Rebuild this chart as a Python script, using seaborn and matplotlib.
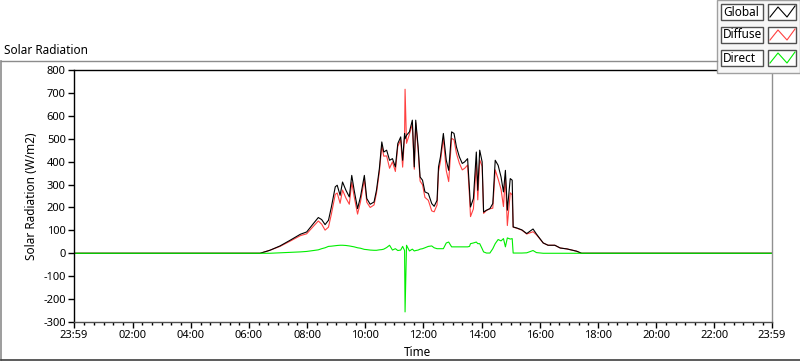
import numpy as np
import pandas as pd
import matplotlib
matplotlib.use("Agg")
import matplotlib.pyplot as plt
from matplotlib.lines import Line2D
from matplotlib.patches import Rectangle
from matplotlib.ticker import FixedLocator
import seaborn as sb

# sample times (HH:MM), "23:59" at the start means the minute before midnight
times = ["23:59", "06:23", "06:43", "07:04", "07:25", "07:46", "07:59", "08:13", "08:23", "08:30",
         "08:37", "08:44", "08:50", "08:58", "09:02", "09:08", "09:13", "09:20", "09:27", "09:32",
         "09:37", "09:44", "09:50", "09:58", "10:03", "10:10", "10:18", "10:23", "10:29", "10:34",
         "10:38", "10:44", "10:50", "10:56", "11:02", "11:07", "11:13", "11:17", "11:21", "11:22",
         "11:25", "11:31", "11:37", "11:41", "11:44", "11:49", "11:53", "11:58", "12:03", "12:10",
         "12:17", "12:22", "12:28", "12:31", "12:35", "12:41", "12:47", "12:52", "12:58", "13:03",
         "13:08", "13:14", "13:20", "13:25", "13:31", "13:35", "13:37", "13:43", "13:49", "13:52",
         "13:56", "14:01", "14:04", "14:10", "14:17", "14:23", "14:28", "14:34", "14:40", "14:45",
         "14:49", "14:53", "14:59", "15:03", "15:05", "15:13", "15:23", "15:33", "15:46", "15:53",
         "16:07", "16:17", "16:21", "16:31", "16:42", "16:56", "17:16", "17:26", "23:59"]

global_rad = [0, 0, 13, 32, 57, 83, 93, 130, 156, 147,
              125, 144, 202, 290, 297, 253, 311, 275, 246, 340,
              275, 195, 246, 340, 239, 214, 224, 275, 370, 486,
              442, 450, 406, 413, 377, 479, 508, 406, 523, 500,
              515, 530, 581, 377, 581, 464, 333, 319, 268, 261,
              217, 205, 231, 377, 421, 523, 406, 362, 530, 523,
              464, 421, 392, 399, 413, 275, 202, 239, 442, 275,
              450, 399, 180, 188, 195, 217, 406, 384, 333, 268,
              362, 188, 326, 319, 115, 110, 102, 86, 106, 84,
              45, 35, 35, 35, 23, 19, 9, 0, 0]

diffuse_rad = [0, 0, 13, 30, 53, 77, 85, 118, 141, 127,
               101, 114, 171, 257, 263, 218, 276, 241, 214, 310,
               247, 171, 224, 323, 223, 200, 211, 262, 355, 470,
               424, 425, 371, 399, 357, 467, 494, 376, 511, 716,
               480, 520, 563, 367, 569, 450, 315, 299, 244, 231,
               185, 181, 211, 357, 401, 503, 361, 313, 502, 495,
               436, 393, 364, 371, 385, 245, 160, 194, 393, 233,
               408, 379, 174, 187, 194, 197, 364, 324, 279, 204,
               334, 121, 264, 255, 114, 109, 101, 84, 94, 81,
               45, 35, 35, 35, 23, 19, 9, 0, 0]

direct_rad = [0, 0, 0, 2, 4, 6, 8, 12, 15, 20,
              24, 30, 31, 33, 34, 35, 35, 34, 32, 30,
              28, 24, 22, 17, 16, 14, 13, 13, 15, 16,
              18, 25, 35, 14, 20, 12, 14, 30, 12, -256,
              35, 10, 18, 10, 12, 14, 18, 20, 24, 30,
              32, 24, 20, 20, 20, 20, 45, 49, 28, 28,
              28, 28, 28, 28, 28, 30, 42, 45, 49, 42,
              42, 20, 6, 1, 1, 20, 42, 60, 54, 64,
              28, 67, 62, 64, 1, 1, 1, 2, 12, 3,
              0, 0, 0, 0, 0, 0, 0, 0, 0]

tick_labels = ["23:59", "02:00", "04:00", "06:00", "08:00", "10:00", "12:00",
               "14:00", "16:00", "18:00", "20:00", "22:00", "23:59"]


def to_hours(t, i):
    hh, mm = map(int, t.split(":"))
    h = hh + mm / 60
    if i == 0 and hh == 23:
        h -= 24
    return h


hours = [to_hours(t, i) for i, t in enumerate(times)]
df = pd.DataFrame({
    "Time": hours * 3,
    "value": global_rad + diffuse_rad + direct_rad,
    "series": ["Global"] * len(hours) + ["Diffuse"] * len(hours) + ["Direct"] * len(hours),
})

colors = {"Global": "#000000", "Diffuse": "#ff4040", "Direct": "#00ee00"}

W, H = 800, 361
plt.rcParams["font.family"] = ["Noto Sans", "DejaVu Sans"]
fig = plt.figure(figsize=(W / 100, H / 100), dpi=100)
fig.patch.set_facecolor("white")


def fx(x):
    return x / W


def fy(y):
    return 1 - y / H


ax = fig.add_axes([fx(74), fy(322), fx(772) - fx(74), fy(70) - fy(322)])
for name in ["Diffuse", "Global", "Direct"]:
    sb.lineplot(data=df[df.series == name], x="Time", y="value", color=colors[name],
                lw=0.8, ax=ax, legend=False, estimator=None)

x0, x1 = -1 / 60, 23 + 59 / 60
ax.set_xlim(x0, x1)
ax.set_ylim(-300, 800)
ax.set_yticks(range(-300, 801, 100))
ax.set_yticklabels([str(v) for v in range(-300, 801, 100)], fontsize=8)
major = [x0] + list(range(2, 23, 2)) + [x1]
ax.set_xticks(major)
ax.set_xticklabels(tick_labels, fontsize=8)
minor = [m / 3 for m in range(1, 72) if m % 6 != 0]
ax.xaxis.set_minor_locator(FixedLocator(minor))
ax.tick_params(axis="both", which="major", length=4, width=1, color="black", pad=2)
ax.tick_params(axis="x", which="minor", length=2.5, width=1, color="black")
ax.set_xlabel("Time", fontsize=8.5)
ax.xaxis.label.set_va("center")
ax.xaxis.set_label_coords((417 - 74) / 698, (322 - 353) / 252)
ax.set_ylabel("Solar Radiation (W/m2)", fontsize=8.5, labelpad=4)
for side in ["left", "top"]:
    ax.spines[side].set_color("black")
    ax.spines[side].set_linewidth(1)
ax.spines["right"].set_color("#909090")
ax.spines["bottom"].set_color("#505050")
ax.spines["right"].set_linewidth(1)
ax.spines["bottom"].set_linewidth(1)

# outer panel frame
fig.add_artist(Line2D([fx(0.5), fx(717)], [fy(61), fy(61)], color="#8c8c8c", lw=1))
fig.add_artist(Line2D([fx(0.5), fx(0.5)], [fy(61), fy(360)], color="#8c8c8c", lw=1.2))
fig.add_artist(Line2D([fx(0.5), fx(800)], [fy(359.5), fy(359.5)], color="#404040", lw=1.2))
fig.text(fx(4), fy(50), "Solar Radiation", fontsize=8.5, va="center", ha="left")

# legend panel
fig.add_artist(Rectangle((fx(717), fy(73)), fx(800) - fx(717), fy(0) - fy(73),
                         facecolor="#f6f6f6", edgecolor="#a0a0a0", lw=1))
rows = [("Global", 4), ("Diffuse", 27), ("Direct", 50)]
for name, top in rows:
    fig.add_artist(Rectangle((fx(721), fy(top + 16)), fx(763) - fx(721), fy(top) - fy(top + 16),
                             facecolor="white", edgecolor="#505050", lw=1))
    fig.text(fx(723), fy(top + 8), name, fontsize=8.5, va="center", ha="left")
    fig.add_artist(Rectangle((fx(768), fy(top + 16)), fx(796) - fx(768), fy(top) - fy(top + 16),
                             facecolor="white", edgecolor="#505050", lw=1))
    zx = [770, 778, 787, 795]
    zy = [top + 13, top + 3, top + 13, top + 2]
    fig.add_artist(Line2D([fx(v) for v in zx], [fy(v) for v in zy], color=colors[name], lw=0.8))

fig.savefig("out.png", dpi=100)
